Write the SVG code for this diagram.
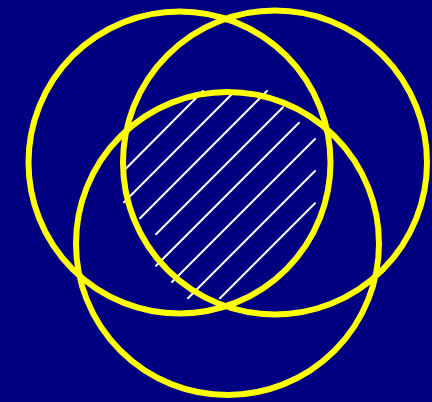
<svg xmlns="http://www.w3.org/2000/svg" width="432" height="402" viewBox="0 0 432 402">
<style>
.ring{fill:none;stroke:#ffff00;stroke-width:6}
.hatch{stroke:#ffffff;stroke-width:2;stroke-linecap:round}
</style>
<rect x="0" y="0" width="432" height="402" fill="#000080"/>
<g id="hatching">
<line class="hatch" x1="124" y1="170.5" x2="203" y2="91"/>
<line class="hatch" x1="124" y1="202.3" x2="235" y2="91"/>
<line class="hatch" x1="140" y1="218.3" x2="267" y2="91"/>
<line class="hatch" x1="156" y1="234.3" x2="283" y2="107.3"/>
<line class="hatch" x1="156" y1="265.7" x2="299" y2="122.7"/>
<line class="hatch" x1="172" y1="282" x2="315" y2="139"/>
<line class="hatch" x1="188" y1="298.3" x2="315" y2="171"/>
<line class="hatch" x1="220" y1="298.3" x2="315" y2="203.3"/>
</g>
<g id="circleA"><circle class="ring" cx="179.5" cy="162.5" r="151"/></g>
<g id="circleB"><circle class="ring" cx="275" cy="162.5" r="152"/></g>
<g id="circleC"><circle class="ring" cx="227.5" cy="243.5" r="151.5"/></g>
</svg>
